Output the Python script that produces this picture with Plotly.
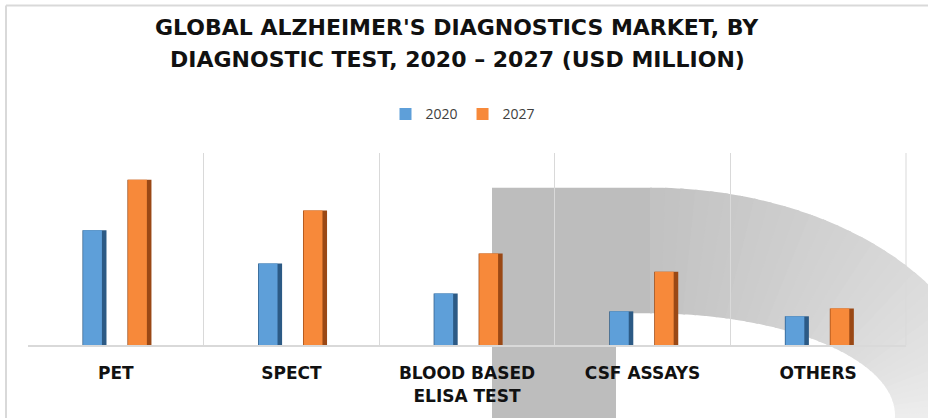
import math
import plotly.graph_objects as go

# ---- data ----
categories = ["PET", "SPECT", "BLOOD BASED<br>ELISA TEST", "CSF ASSAYS", "OTHERS"]
series_names = ["2020", "2027"]
values_2020 = [1160, 824, 520, 340, 290]
values_2027 = [1670, 1360, 924, 740, 370]

# ---- geometry helpers (pixel -> paper) ----
L, R, T, B = 28, 906, 153, 347
W, H = 928, 418


def px(x, y):
    return ((x - L) / (R - L), (B - y) / (B - T))


def path(points):
    pts = [px(x, y) for x, y in points]
    return "M " + " L ".join(f"{a:.5f},{b:.5f}" for a, b in pts) + " Z"


shapes = []
# watermark: column
shapes.append(dict(type="path", xref="paper", yref="paper", layer="below",
                   path=path([(492, 430), (492, 188), (652, 188), (652, 315), (616, 315), (616, 430)]),
                   fillcolor="#bdbdbd", line=dict(width=0)))
# watermark: arc band with gradient slices
cx, cy = 650, 418
orx, ory = 340, 230
irx, iry = 245, 103
n = 40
a0, a1 = 90.0, -12.0
for i in range(n):
    t1 = a0 + (a1 - a0) * i / n
    t2 = a0 + (a1 - a0) * (i + 1) / n + (-0.6 if i < n - 1 else 0)
    steps = 3
    outer = []
    inner = []
    for k in range(steps + 1):
        t = math.radians(t1 + (t2 - t1) * k / steps)
        outer.append((cx + orx * math.cos(t), cy - ory * math.sin(t)))
        inner.append((cx + irx * math.cos(t), cy - iry * math.sin(t)))
    frac = i / (n - 1)
    g = int(round(194 + (242 - 194) * frac))
    shapes.append(dict(type="path", xref="paper", yref="paper", layer="below",
                       path=path(outer + inner[::-1]),
                       fillcolor=f"rgb({g},{g},{g})", line=dict(width=0)))
# outer border (top + left)
x0, y0 = px(6, 4)
x1, y1 = px(940, 430)
shapes.append(dict(type="line", xref="paper", yref="paper", x0=x0, x1=x1, y0=y0, y1=y0,
                   line=dict(color="#d9d9d9", width=2)))
shapes.append(dict(type="line", xref="paper", yref="paper", x0=x0, x1=x0, y0=y0, y1=y1,
                   line=dict(color="#d9d9d9", width=2)))
# right-most category boundary grid line
shapes.append(dict(type="line", xref="paper", yref="paper", x0=1, x1=1, y0=0, y1=1,
                   line=dict(color="#d9d9d9", width=1)))

fig = go.Figure()

bw = 0.137
inner_w = 0.107
offsets = [-0.19, 0.066]
dark = ["#2c5a85", "#9a4815"]
main = ["#5e9fd9", "#f7893a"]
for vals, name, off, dk, mn in zip([values_2020, values_2027], series_names, offsets, dark, main):
    fig.add_trace(go.Bar(x=categories, y=vals, width=bw, offset=off,
                         marker=dict(color=dk, line=dict(width=0)),
                         showlegend=False, hoverinfo="skip"))
    fig.add_trace(go.Bar(x=categories, y=vals, width=inner_w, offset=off + 0.004, name=name,
                         marker=dict(color=mn, line=dict(width=0))))

title_font = dict(family="DejaVu Sans", size=22, color="#111111", weight="bold")
tx = px(457, 0)[0]
annotations = [
    dict(text="GLOBAL ALZHEIMER'S DIAGNOSTICS MARKET, BY", xref="paper", yref="paper",
         x=tx, y=px(0, 26)[1], xanchor="center", yanchor="middle", showarrow=False, font=title_font),
    dict(text="DIAGNOSTIC TEST, 2020 – 2027 (USD MILLION)", xref="paper", yref="paper",
         x=tx, y=px(0, 59)[1], xanchor="center", yanchor="middle", showarrow=False, font=title_font),
]

fig.update_layout(
    width=W, height=H,
    margin=dict(l=L, r=W - R, t=T, b=H - B, pad=0),
    paper_bgcolor="white", plot_bgcolor="rgba(0,0,0,0)",
    barmode="overlay",
    showlegend=True,
    legend=dict(orientation="h", x=px(463, 0)[0], xanchor="center", y=px(0, 114)[1], yanchor="middle",
                font=dict(family="Open Sans", size=14, color="#404040"),
                itemwidth=30, traceorder="normal", bgcolor="rgba(0,0,0,0)"),
    shapes=shapes,
    annotations=annotations,
    xaxis=dict(type="category", tickson="boundaries", showgrid=True, gridcolor="#d9d9d9", gridwidth=1,
               showline=True, linecolor="#d9d9d9", linewidth=2, ticks="", ticklabelstandoff=12,
               tickfont=dict(family="DejaVu Sans", size=17, color="#111111", weight="bold"),
               range=[-0.5, 4.5], fixedrange=True),
    yaxis=dict(range=[0, 1940], visible=False, showgrid=False, zeroline=False, fixedrange=True),
)

fig.write_html("out.html", config={"displayModeBar": False},
               post_script="document.body.style.margin='0';")
